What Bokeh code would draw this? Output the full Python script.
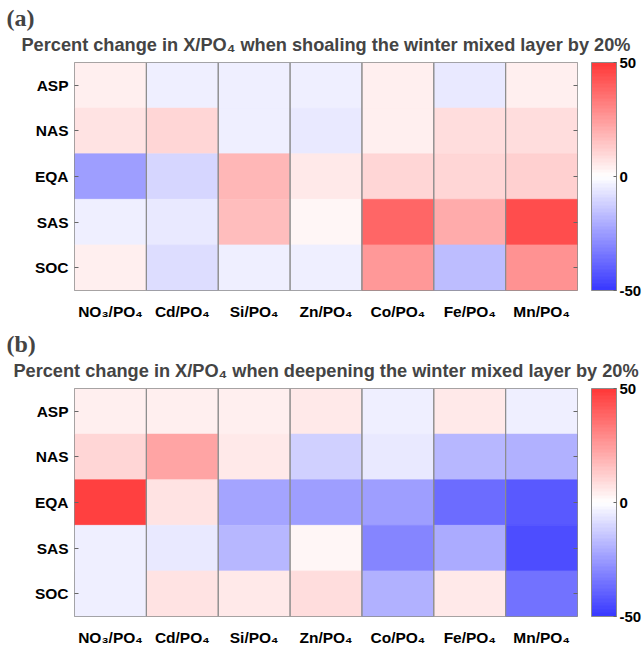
from bokeh.plotting import figure
from bokeh.models import (ColumnDataSource, LinearColorMapper, ColorBar, FixedTicker,
                          CategoricalAxis, Title, FactorRange)
from bokeh.layouts import column
from bokeh.embed import file_html
from bokeh.resources import INLINE

ratios = ["NO₃/PO₄", "Cd/PO₄", "Si/PO₄", "Zn/PO₄", "Co/PO₄", "Fe/PO₄", "Mn/PO₄"]
regions = ["ASP", "NAS", "EQA", "SAS", "SOC"]

# percent change, rows = regions, columns = ratios
shoal_ASP = [4, -4, -4, -4, 4, -5, 4]
shoal_NAS = [7, 10, -4, -6, 4, 8, 8]
shoal_EQA = [-24, -10, 18, 6, 10, 10, 12]
shoal_SAS = [-4, -5, 16, 3, 38, 21, 45]
shoal_SOC = [4, -8, -4, -4, 26, -17, 27]

deep_ASP = [4, 4, 4, 5, -4, 6, -4]
deep_NAS = [10, 22, 6, -12, -6, -18, -20]
deep_EQA = [48, 7, -22, -24, -24, -37, -41]
deep_SAS = [-4, -6, -18, 3, -30, -21, -45]
deep_SOC = [-4, 7, 6, 8, -20, 5, -35]

cbar_ticks = [-50, 0, 50]
cbar_labels = ["-50", "0", "50"]

shoal = [shoal_ASP, shoal_NAS, shoal_EQA, shoal_SAS, shoal_SOC]
deep = [deep_ASP, deep_NAS, deep_EQA, deep_SAS, deep_SOC]


def make_palette(n=64, end=55):
    cols = []
    for i in range(n):
        v = -1 + (i + 0.5) * 2 / n
        t = abs(v)
        c = int(round(255 - t * (255 - end)))
        if v < 0:
            cols.append("#%02x%02x%02x" % (c, c, 255))
        else:
            cols.append("#%02x%02x%02x" % (255, c, c))
    return cols


palette = make_palette()
FONT = "Liberation Sans"
EDGE = "#8c8c8c"


def panel(values, letter, verb, top, bottom):
    mapper = LinearColorMapper(palette=palette, low=-50, high=50)
    p = figure(x_range=FactorRange(*ratios), y_range=FactorRange(*regions[::-1]),
               frame_width=503, frame_height=228, min_border_left=74, min_border_right=67,
               min_border_top=top, min_border_bottom=bottom,
               output_backend="svg", toolbar_location=None)
    xs, ys, vs = [], [], []
    for r, row in zip(regions, values):
        for c, v in zip(ratios, row):
            xs.append(c)
            ys.append(r)
            vs.append(v)
    src = ColumnDataSource(dict(x=xs, y=ys, v=vs))
    p.rect(x="x", y="y", width=1, height=1, source=src,
           fill_color={"field": "v", "transform": mapper},
           line_color={"field": "v", "transform": mapper}, line_width=0.6)
    p.rect(x=ratios, y=["EQA"] * len(ratios), width=1, height=len(regions),
           fill_color=None, line_color=EDGE, line_width=1)
    p.grid.visible = False
    p.outline_line_color = EDGE
    for ax in (p.xaxis[0], p.yaxis[0]):
        ax.axis_line_color = None
        ax.major_label_text_font = FONT
        ax.major_label_text_font_style = "bold"
        ax.major_label_text_font_size = "15.5px"
        ax.major_label_text_color = "black"
    p.xaxis.major_tick_line_color = None
    p.xaxis.major_label_standoff = 6
    p.yaxis.major_tick_in = 4
    p.yaxis.major_tick_out = 0
    p.yaxis.major_tick_line_color = "#666666"
    p.yaxis.major_label_standoff = 6
    # inner ticks on the right edge of the box
    ra = CategoricalAxis(axis_line_color=None, major_tick_in=4, major_tick_out=0,
                         major_tick_line_color="#666666", major_label_text_color=None)
    p.add_layout(ra, "right")
    # invisible spacer axis: gap between box and colour bar
    sp = CategoricalAxis(axis_line_color=None, major_tick_in=0, major_tick_out=14,
                         major_tick_line_color=None, major_label_text_color=None)
    p.add_layout(sp, "right")

    cb = ColorBar(color_mapper=mapper, ticker=FixedTicker(ticks=cbar_ticks),
                  major_label_overrides=dict(zip(cbar_ticks, cbar_labels)),
                  width=25, height=228, padding=0, margin=0,
                  major_label_text_font=FONT, major_label_text_font_style="bold",
                  major_label_text_font_size="15px", major_label_text_color="black",
                  bar_line_color=EDGE, major_tick_line_color="#666666",
                  major_tick_in=3, major_tick_out=0, label_standoff=3,
                  background_fill_color=None)
    p.add_layout(cb, "right")

    t1 = Title(text="Percent change in X/PO₄ when %s the winter mixed layer by 20%%" % verb,
               align="center", text_font=FONT, text_font_style="bold",
               text_font_size="18.2px", standoff=15)
    p.add_layout(t1, "above")
    t0 = Title(text="(%s)" % letter, align="left", offset=-68, text_font="Liberation Serif",
               text_font_style="bold", text_font_size="24px", standoff=-10)
    p.add_layout(t0, "above")
    return p


pa = panel(shoal, "a", "shoaling", 62, 33)
pb = panel(deep, "b", "deepening", 65, 31)
layout = column(pa, pb)
open("out.html", "w").write(file_html(layout, INLINE))
